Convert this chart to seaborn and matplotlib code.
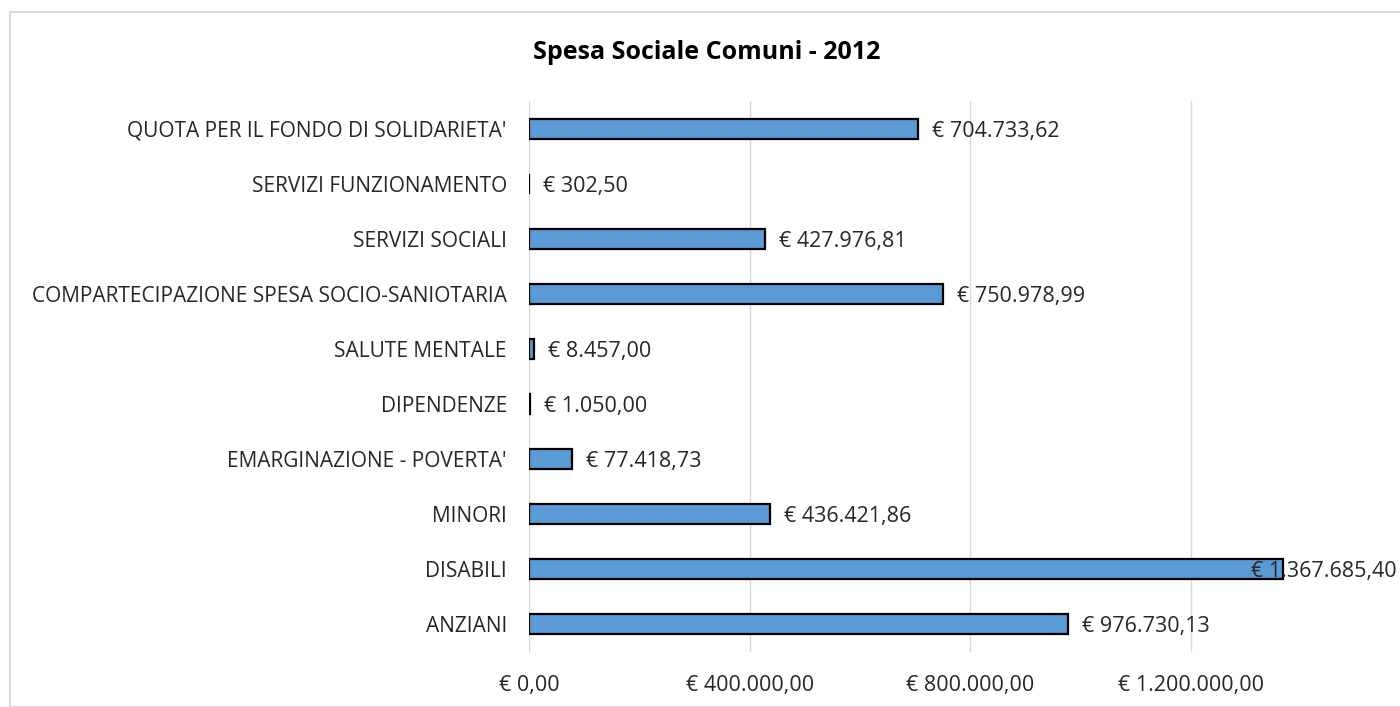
import matplotlib
matplotlib.use("Agg")
import matplotlib.pyplot as plt
import seaborn as sns
import pandas as pd
from matplotlib.patches import Rectangle

categories = [
    "QUOTA PER IL FONDO DI SOLIDARIETA'",
    "SERVIZI FUNZIONAMENTO",
    "SERVIZI SOCIALI",
    "COMPARTECIPAZIONE SPESA SOCIO-SANIOTARIA",
    "SALUTE MENTALE",
    "DIPENDENZE",
    "EMARGINAZIONE - POVERTA'",
    "MINORI",
    "DISABILI",
    "ANZIANI",
]
spesa = [704733.62, 302.50, 427976.81, 750978.99, 8457.00,
         1050.00, 77418.73, 436421.86, 1367685.40, 976730.13]
x_ticks = [0, 400000, 800000, 1200000]
title = "Spesa Sociale Comuni - 2012"


def euro(v):
    s = f"{v:,.2f}"
    s = s.replace(",", "X").replace(".", ",").replace("X", ".")
    return "€ " + s


sns.set_style("white")
plt.rcParams['font.family'] = ['Open Sans', 'DejaVu Sans']

df = pd.DataFrame({"categoria": categories, "spesa": spesa})

fig = plt.figure(figsize=(14, 7.07), dpi=100)
ax = fig.add_axes([0.378, 0.0785, 0.63, 0.778])

sns.barplot(data=df, y="categoria", x="spesa", orient="h", order=categories,
            color="#5B9BD5", saturation=1, edgecolor="black", linewidth=1.6,
            width=0.35, ax=ax)

xmax = 1600000
ax.set_xlim(0, xmax)
ax.set_xticks(x_ticks)
ax.set_xticklabels([euro(t) for t in x_ticks])
ax.set_xlabel("")
ax.set_ylabel("")
ax.grid(axis="x", color="#D9D9D9", linewidth=1)
ax.set_axisbelow(True)
for sp in ax.spines.values():
    sp.set_visible(False)
ax.tick_params(axis="y", length=0, pad=16, labelsize=15, labelcolor="#262626")
ax.tick_params(axis="x", length=0, pad=17, labelsize=15.5, labelcolor="#262626")

for i, v in enumerate(spesa):
    # labels that would run off the chart get pushed back over the bar, like Excel does
    off = -23 if v > 0.8 * xmax else 10
    ax.annotate(euro(v), xy=(v, i), xytext=(off, -1.5), textcoords="offset points",
                va="center", ha="left", fontsize=15.5, color="#262626")

fig.text(0.505, 0.926, title, ha="center", va="center", fontsize=18,
         fontweight="bold", color="black")

fig.patches.append(Rectangle((10 / 1400, 0.0), 1.2, 1 - 12 / 707,
                             transform=fig.transFigure, fill=False,
                             edgecolor="#D9D9D9", linewidth=1.5, zorder=0))

fig.savefig("out.png", dpi=100)
